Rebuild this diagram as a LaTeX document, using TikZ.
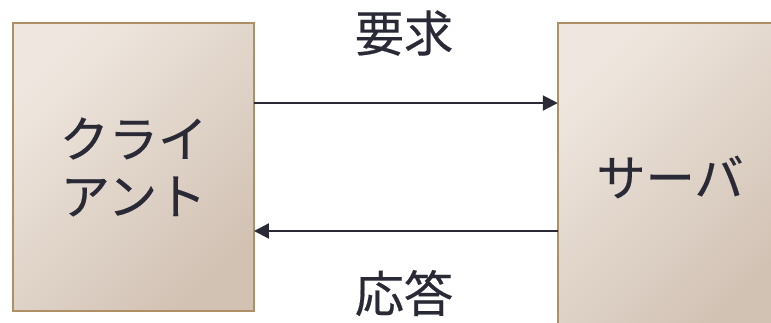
\documentclass[tikz,border=0pt]{standalone}
\usepackage{fontspec}
\newfontfamily\jpfont[FakeBold=0.4]{Noto Sans CJK JP}
\usetikzlibrary{positioning,arrows.meta}
\definecolor{boxlight}{HTML}{EFE7DF}
\definecolor{boxdark}{HTML}{D2C2B4}
\definecolor{boxline}{HTML}{AE8F66}
\definecolor{inkdark}{HTML}{292A36}

\tikzset{
  endbox/.style={rectangle, draw=boxline, line width=1.1pt, inner sep=0pt, outer sep=0pt,
    top color=boxlight, bottom color=boxdark, shading angle=45,
    text=inkdark, align=center, font=\jpfont\fontsize{28}{32.6}\selectfont},
  msg/.style={-{Triangle[length=8.5pt, width=8.5pt]}, line width=1.2pt, draw=inkdark},
  msglabel/.style={text=inkdark, font=\jpfont\fontsize{28}{32.6}\selectfont}
}

\begin{document}
\begin{tikzpicture}[x=0.02cm, y=-0.02cm]
  \clip (0,0) rectangle (771,322);

  % Boxes
  \node[endbox, minimum width=4.82cm, minimum height=5.76cm] (client) at (133.5,167) {クライ\\アント};
  \node[endbox, minimum width=4.49cm, minimum height=6.16cm] (server) at (670,177) {サーバ};

  % Arrows
  \draw[msg] ([yshift=1.28cm]client.east) -- ([yshift=1.28cm]client.east -| server.west);
  \draw[msg] ([yshift=-1.28cm]client.east -| server.west) -- ([yshift=-1.28cm]client.east);

  % Labels
  \node[msglabel] (request) at (404,33) {要求};
  \node[msglabel] (response) at (404,293) {応答};
\end{tikzpicture}
\end{document}
